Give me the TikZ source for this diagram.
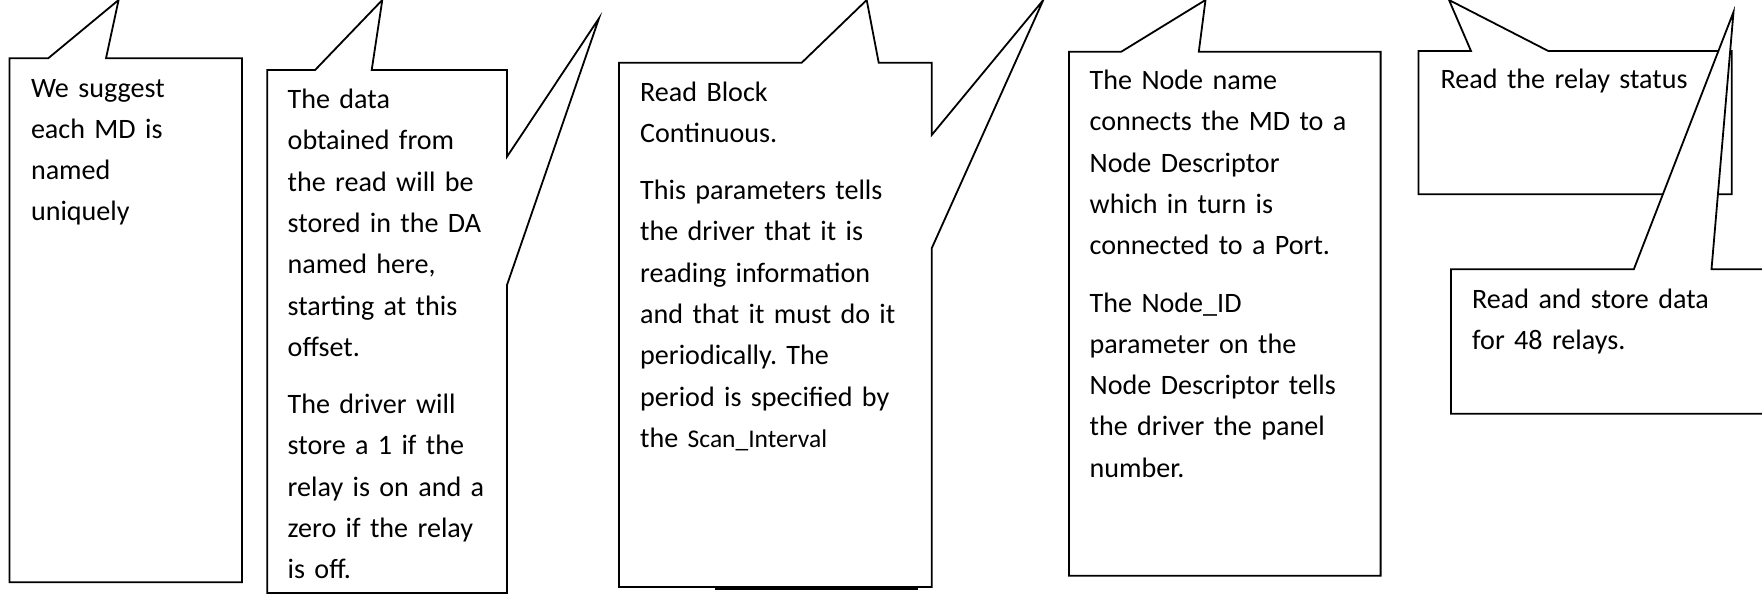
\documentclass[tikz,border=0pt]{standalone}
\usepackage{fontspec}
\setmainfont{Carlito}
\begin{document}
\begin{tikzpicture}[x=1pt,y=-1pt,
  callout/.style={draw=black,fill=white,line width=1.8pt,line join=miter},
  txt/.style={anchor=base west,inner sep=0pt,text width=330pt,align=left,
    font=\fontsize{28.1}{41.3}\selectfont\frenchspacing}]
\useasboundingbox (0,0) rectangle (1762,595);
\fill[white] (0,0) rectangle (1762,595);
\clip (0,0) rectangle (1762,595);
% callout 1
\draw[callout] (9.5,58.3) -- (48.2,58.3) -- (118.6,0) -- (106,58.3) -- (242,58.3)
  -- (242,582.3) -- (9.5,582.3) -- cycle;
\node[txt] (t1) at (30.8,97) {We suggest\\each MD is\\named\\uniquely};
% callout 2
\draw[callout] (267.3,70) -- (315.1,70) -- (382.3,0) -- (371.7,70) -- (507,70)
  -- (507,156.7) -- (599,18.3) -- (507,285) -- (507,593) -- (267.3,593) -- cycle;
\node[txt] (t2) at (287.5,108.5) {The data\\obtained from\\the read will be\\stored in the DA\\named here,\\starting at this\\offset.\\[16pt]The driver will\\store a 1 if the\\relay is on and a\\zero if the relay\\is off.};
% callout 3
\draw[callout] (619,62.7) -- (801.7,62.7) -- (866.7,0) -- (878.7,62.7) -- (931.7,62.7)
  -- (931.7,135) -- (1043.3,0) -- (931.7,248.3) -- (931.7,587) -- (619,587) -- cycle;
\draw[line width=2.6pt] (715,588.5) -- (918,588.5);
\node[txt] (t3) at (640,101) {Read Block\\Continuous.\\[16pt]This parameters tells\\the driver that it is\\reading information\\and that it must do it\\periodically. The\\period is specified by\\the {\fontsize{25.5}{41.3}\selectfont Scan\_Interval}};
% callout 4
\draw[callout] (1069,51.7) -- (1121.3,51.7) -- (1205.5,0) -- (1198.8,51.7) -- (1380.6,51.7)
  -- (1380.6,575.7) -- (1069,575.7) -- cycle;
\node[txt] (t4) at (1089.5,89.5) {The Node name\\connects the MD to a\\Node Descriptor\\which in turn is\\connected to a Port.\\[16pt]The Node\_ID\\parameter on the\\Node Descriptor tells\\the driver the panel\\number.};
% callout 5
\draw[callout] (1418.5,51) -- (1471,51) -- (1449,0) -- (1548.3,51) -- (1731.7,51)
  -- (1731.7,194.3) -- (1418.5,194.3) -- cycle;
\node[txt] (t5) at (1440.5,88.5) {Read the relay status};
% callout 6
\draw[callout] (1451,269.3) -- (1633.8,269.3) -- (1733.5,12) -- (1711.5,269.3) -- (1775,269.3)
  -- (1775,413.8) -- (1451,413.8) -- cycle;
\node[txt] (t6) at (1472,308.5) {Read and store data\\for 48 relays.};
\end{tikzpicture}
\end{document}
